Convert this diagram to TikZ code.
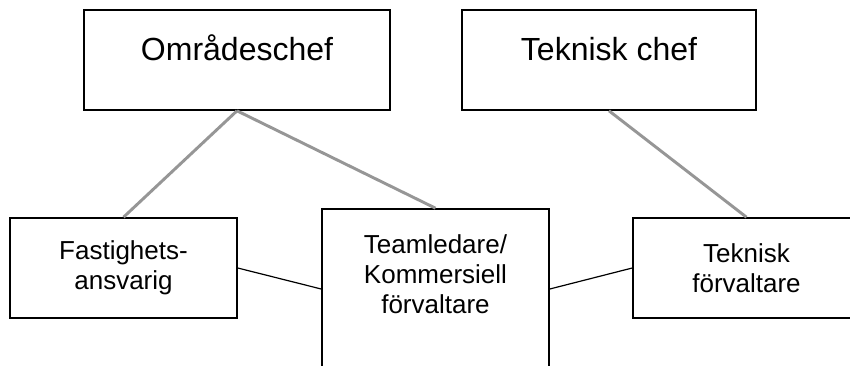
\documentclass[tikz,border=0pt]{standalone}
\usepackage{fontspec}
\setmainfont{Liberation Sans}
\usetikzlibrary{positioning}
\definecolor{linkgray}{RGB}{150,150,150}

\begin{document}
\begin{tikzpicture}[
		x=0.75pt, y=-0.75pt,
		box/.style={draw, line width=1.2pt, inner sep=0pt, minimum height=75pt},
		chief/.style={box, font=\fontsize{24}{28}\selectfont, text height=37.5pt, text depth=37.5pt},
		staff/.style={box, font=\fontsize{19.5}{22.5}\selectfont, align=center, minimum width=170.25pt},
		link/.style={draw=linkgray, line width=2.2pt},
		peer/.style={draw, line width=0.9pt}
		]
		\useasboundingbox (0,0) rectangle (850,365);
		\clip (0,0) rectangle (850,365);
		
		% Chefer
		\node[chief, minimum width=229.5pt] (omr) at (237,60) {Områdeschef};
		\node[chief, minimum width=220.5pt] (tchef) at (609,60) {Teknisk chef};
		
		% Medarbetare
		\node[staff] (fast) at (123.5,268) {Fastighets-\\ansvarig};
		\node[staff, minimum height=120pt] (team) at (435.5,289) {};
		\node[font=\fontsize{19.5}{22.5}\selectfont, align=center, inner sep=0pt,
			below=19.5pt of team.north] (teamtext) {Teamledare/\\Kommersiell\\förvaltare};
		\node[staff] (tforv) at (746.5,268) {Teknisk\\förvaltare};
		
		% Linjer
		\draw[link] (omr.south) -- (fast.north);
		\draw[link] (omr.south) -- (team.north);
		\draw[link] (tchef.south) -- (tforv.north);
		\draw[peer] (fast.east) -- (team.west);
		\draw[peer] (team.east) -- (tforv.west);
	\end{tikzpicture}
\end{document}
